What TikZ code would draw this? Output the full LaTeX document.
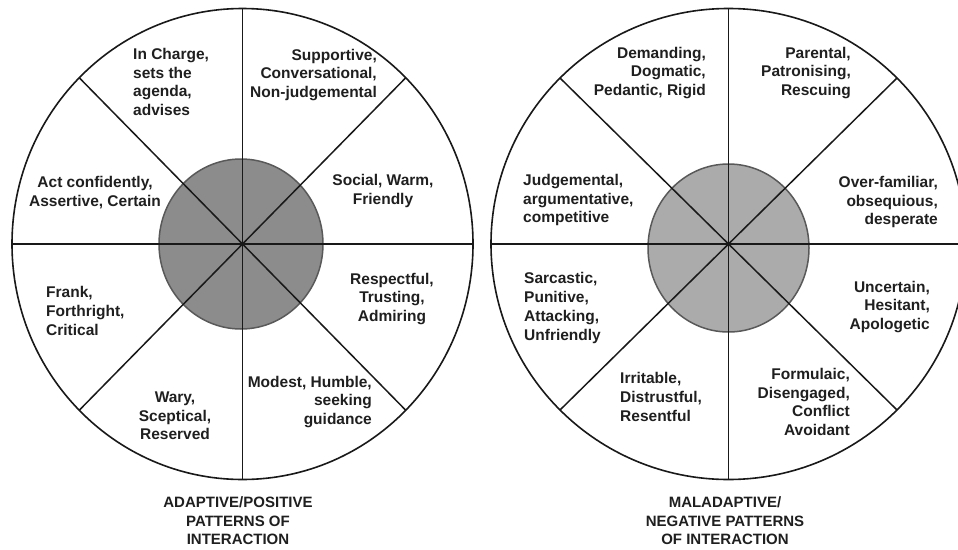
\documentclass[tikz,border=0pt]{standalone}
\usepackage{fontspec}
\setmainfont{Liberation Sans}
\begin{document}
\begin{tikzpicture}[x=1pt,y=-1pt,
  lbl/.style={font=\bfseries\fontsize{15.5}{18.7}\selectfont, text=black!88, inner sep=0pt},
  captiontext/.style={font=\bfseries\fontsize{15}{18.5}\selectfont, text=black!88, inner sep=0pt, align=center},
  rim/.style={draw=black!90, line width=1.6pt, fill=white},
  hub/.style={draw=black!65, line width=1.5pt},
  spoke/.style={draw=black!90, line width=1.5pt}]
\useasboundingbox (0,0) rectangle (958,549);
\clip (0,0) rectangle (958,549);
\fill[white] (0,0) rectangle (958,549);

% ---------- left wheel ----------
\coordinate (Lc) at (242.5,244);
\draw[rim] (Lc) ellipse [x radius=230.5, y radius=235.5];
\draw[hub, fill=black!45] (241,244) ellipse [x radius=82, y radius=85];
\coordinate (Ln) at (242.5,8.5);
\coordinate (Ls) at (242.5,479.5);
\coordinate (Lw) at (12,244);
\coordinate (Le) at (473,244);
\coordinate (Lnw) at (79.5,78);
\coordinate (Lne) at (405.5,78);
\coordinate (Lsw) at (79.5,410);
\coordinate (Lse) at (405.5,410);
\foreach \p in {Ln,Ls,Lw,Le,Lnw,Lne,Lsw,Lse} \draw[spoke] (Lc) -- (\p);

\node[lbl, anchor=west, align=left] (l1) at (133,82) {In Charge,\\sets the\\agenda,\\advises};
\node[lbl, anchor=east, align=right] (l2) at (377,75) {Supportive,\\Conversational,\\Non-judgemental};
\node[lbl, align=center] (l3) at (95,192.5) {Act confidently,\\Assertive, Certain};
\node[lbl, align=center] (l4) at (383,191) {Social, Warm,\\Friendly};
\node[lbl, align=center] (l5) at (392,299) {Respectful,\\Trusting,\\Admiring};
\node[lbl, anchor=west, align=left] (l6) at (46,311) {Frank,\\Forthright,\\Critical};
\node[lbl, align=center] (l7) at (175,416) {Wary,\\Sceptical,\\Reserved};
\node[lbl, anchor=east, align=right] (l8) at (372,402) {Modest, Humble,\\seeking\\guidance};
\node[captiontext] (lcap) at (238,521) {ADAPTIVE/POSITIVE\\PATTERNS OF\\INTERACTION};

% ---------- right wheel ----------
\coordinate (Rc) at (728.5,244);
\draw[rim] (Rc) ellipse [x radius=237.5, y radius=235.5];
\draw[hub, fill=black!33] (728.5,248) ellipse [x radius=80.5, y radius=84];
\coordinate (Rn) at (728.5,8.5);
\coordinate (Rs) at (728.5,479.5);
\coordinate (Rw) at (491,244);
\coordinate (Re) at (966,244);
\coordinate (Rnw) at (560,78);
\coordinate (Rne) at (897,78);
\coordinate (Rsw) at (560,410);
\coordinate (Rse) at (897,410);
\foreach \p in {Rn,Rs,Rw,Re,Rnw,Rne,Rsw,Rse} \draw[spoke] (Rc) -- (\p);

\node[lbl, anchor=east, align=right] (r1) at (706,73) {Demanding,\\Dogmatic,\\Pedantic, Rigid};
\node[lbl, anchor=east, align=right] (r2) at (851,73) {Parental,\\Patronising,\\Rescuing};
\node[lbl, anchor=west, align=left] (r3) at (523,200) {Judgemental,\\argumentative,\\competitive};
\node[lbl, anchor=east, align=right] (r4) at (938,202) {Over-familiar,\\obsequious,\\desperate};
\node[lbl, anchor=west, align=left] (r5) at (524,308) {Sarcastic,\\Punitive,\\Attacking,\\Unfriendly};
\node[lbl, anchor=east, align=right] (r6) at (930,307) {Uncertain,\\Hesitant,\\Apologetic};
\node[lbl, anchor=west, align=left] (r7) at (620,397) {Irritable,\\Distrustful,\\Resentful};
\node[lbl, anchor=east, align=right] (r8) at (850,402) {Formulaic,\\Disengaged,\\Conflict\\Avoidant};
\node[captiontext] (rcap) at (725,521) {MALADAPTIVE/\\NEGATIVE PATTERNS\\OF INTERACTION};
\end{tikzpicture}
\end{document}
